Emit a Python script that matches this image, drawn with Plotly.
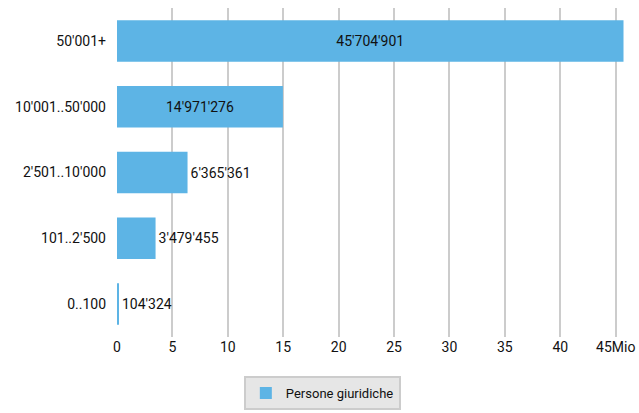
import plotly.graph_objects as go

categories = ["0..100", "101..2'500", "2'501..10'000", "10'001..50'000", "50'001+"]
values = [104324, 3479455, 6365361, 14971276, 45704901]
series_name = "Persone giuridiche"
tick_vals = [0, 5e6, 10e6, 15e6, 20e6, 25e6, 30e6, 35e6, 40e6, 45e6]
tick_text = ["0", "5", "10", "15", "20", "25", "30", "35", "40", "45Mio"]
text_pos = ["outside", "outside", "outside", "inside", "inside"]

FONT = "Roboto, Arial, sans-serif"

fig = go.Figure(go.Bar(
    y=categories, x=values, orientation="h", name=series_name,
    marker=dict(color="#5db4e5", line=dict(width=0)),
    width=0.63,
    texttemplate="%{x:,}", textposition=text_pos,
    insidetextanchor="middle",
    textfont=dict(family=FONT, size=14, color="#111"),
    cliponaxis=False,
))

fig.update_layout(
    width=639, height=413,
    margin=dict(l=117, r=15, t=8, b=76, autoexpand=False),
    paper_bgcolor="white", plot_bgcolor="white",
    separators=".'",
    font=dict(family=FONT, size=14, color="#111"),
    showlegend=True,
    legend=dict(orientation="h", x=0.405, xanchor="center", y=-0.1185, yanchor="top",
                bgcolor="#e6e6e6", bordercolor="#cccccc", borderwidth=2,
                font=dict(family=FONT, size=13, color="#111")),
    xaxis=dict(range=[0, 45.75e6], tickvals=tick_vals, ticktext=tick_text,
               showgrid=True, gridcolor="#cccccc", gridwidth=2,
               zeroline=False, showline=False, ticks="", ticklen=0,
               automargin=False, tickfont=dict(size=14)),
    yaxis=dict(categoryorder="array", categoryarray=categories,
               showgrid=False, zeroline=False, showline=False, ticks="",
               automargin=False, ticklabelstandoff=10, tickfont=dict(size=14)),
    bargap=0.37,
)
css_js = (
    "var h=document.documentElement,b=document.body;"
    "h.style.margin='0';h.style.padding='0';h.style.overflow='hidden';"
    "h.style.width='639px';h.style.height='413px';"
    "b.style.margin='0';b.style.padding='0';b.style.overflow='hidden';"
    "b.style.width='639px';b.style.height='413px';"
    "Array.prototype.forEach.call(b.children,function(c){c.style.margin='0';c.style.height='413px';c.style.overflow='hidden';});"
)
fig.write_html("out.html", config={"displayModeBar": False}, post_script=css_js)
